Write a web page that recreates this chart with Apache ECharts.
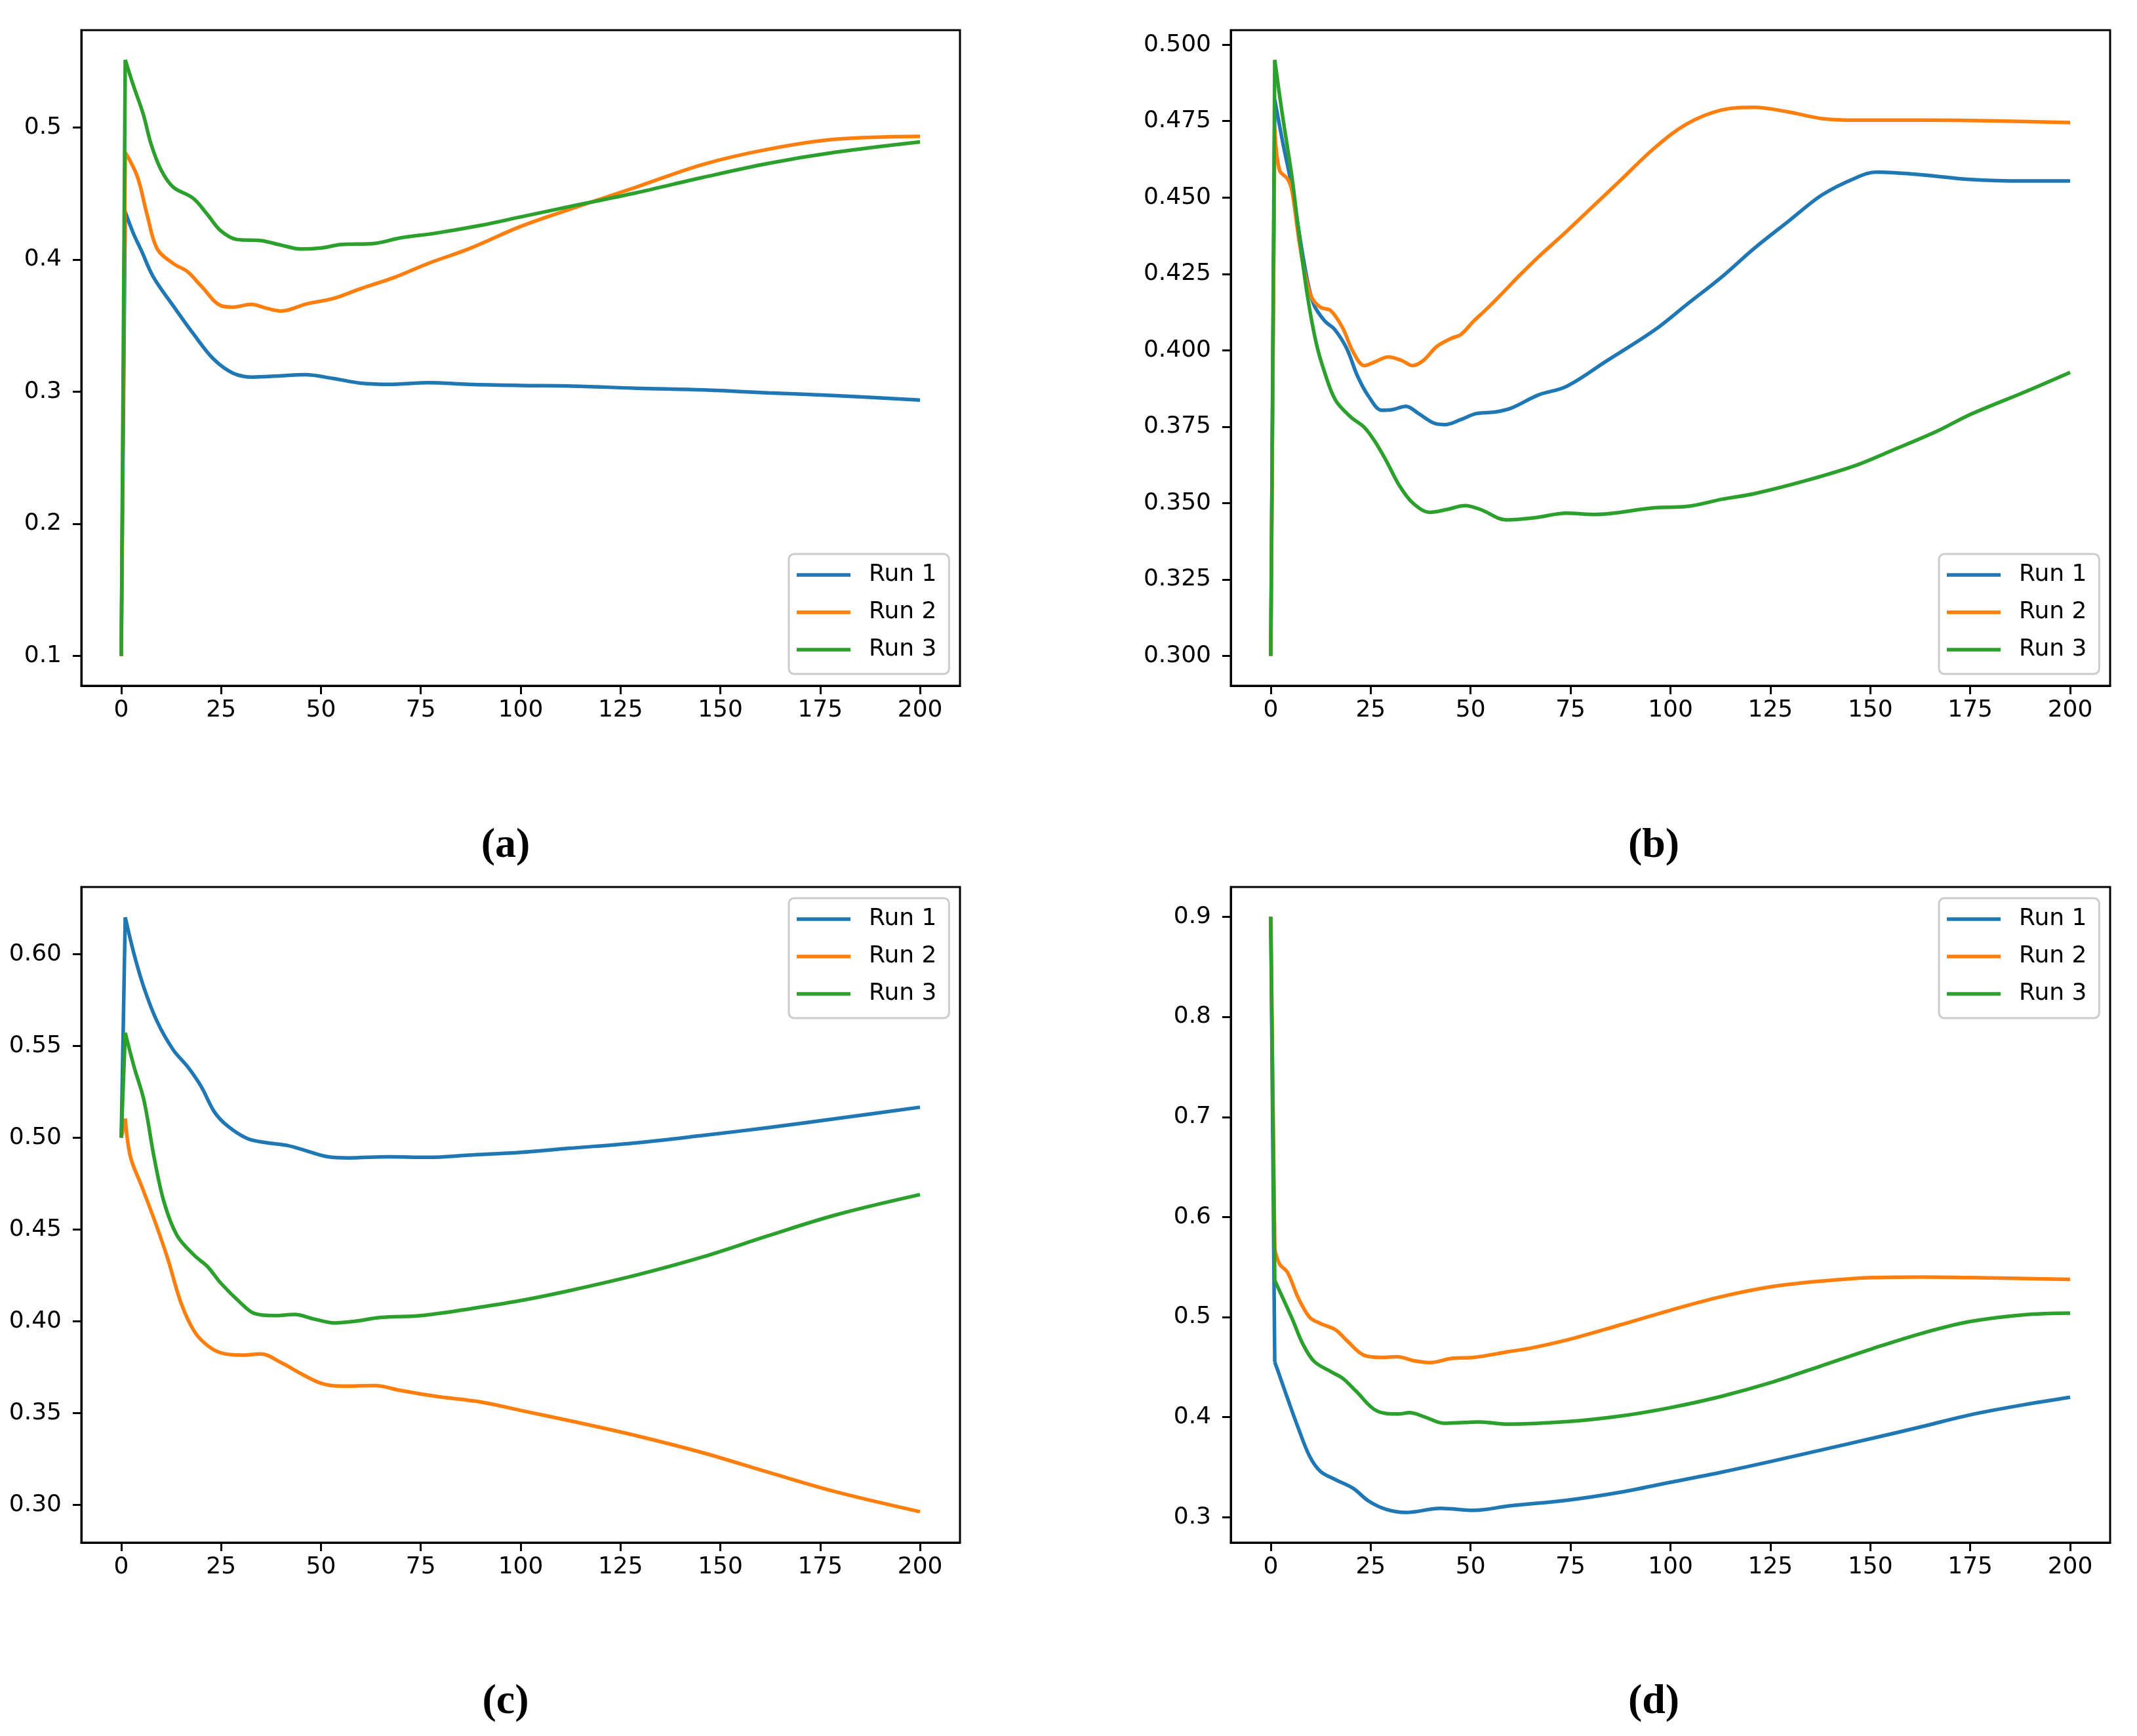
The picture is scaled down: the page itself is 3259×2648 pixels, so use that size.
<!DOCTYPE html>
<html>
<head>
<meta charset="utf-8">
<script src="https://cdn.jsdelivr.net/npm/echarts@6/dist/echarts.min.js"></script>
<style>
html,body{margin:0;padding:0;background:#fff;}
#chart{width:3259px;height:2648px;}
</style>
</head>
<body>
<div id="chart"></div>
<script>
// ---------- data ----------
const seriesNames = ['Run 1', 'Run 2', 'Run 3'];
const xTicks = [0, 25, 50, 75, 100, 125, 150, 175, 200];
const yTicksA = [0.1, 0.2, 0.3, 0.4, 0.5];
const yTicksB = [0.300, 0.325, 0.350, 0.375, 0.400, 0.425, 0.450, 0.475, 0.500];
const yTicksC = [0.30, 0.35, 0.40, 0.45, 0.50, 0.55, 0.60];
const yTicksD = [0.3, 0.4, 0.5, 0.6, 0.7, 0.8, 0.9];
const panelLabels = ['(a)', '(b)', '(c)', '(d)'];

// panel (a)
const aRun1 = [[0,0.1],[1,0.436],[3,0.420],[5,0.407],[8,0.387],[13,0.365],[18,0.344],[23,0.325],[28,0.314],[33,0.311],[40,0.312],[46,0.3128],[53,0.310],[60,0.3064],[67,0.3055],[77,0.3068],[87,0.3055],[100,0.3047],[112,0.3043],[129,0.3026],[146,0.3013],[162,0.2991],[179,0.297],[200,0.2936]];
const aRun2 = [[0,0.1],[1,0.481],[4,0.463],[6.5,0.4335],[9,0.408],[13,0.397],[16.5,0.391],[20,0.380],[25,0.365],[28,0.364],[32.5,0.366],[36.5,0.363],[40,0.361],[46.5,0.3665],[53,0.3704],[60,0.378],[68.5,0.3866],[77,0.3972],[87,0.408],[100,0.425],[112,0.4377],[129,0.4548],[145.5,0.4718],[162,0.4834],[179,0.491],[200,0.4932]];
const aRun3 = [[0,0.1],[1,0.551],[3,0.532],[5.5,0.510],[7.5,0.487],[10,0.4676],[13,0.4548],[18,0.4463],[21.5,0.4343],[25,0.4215],[29,0.4151],[35,0.4143],[40,0.4109],[45,0.4079],[50,0.4087],[55,0.4113],[63.5,0.4122],[70,0.4164],[78.5,0.4198],[90,0.4258],[100,0.4322],[112,0.4399],[129,0.4505],[145.5,0.462],[162,0.4727],[179,0.4812],[200,0.4889]];

// panel (b)
const bRun1 = [[0,0.3],[1,0.482],[3,0.468],[5.3,0.4533],[8.5,0.4275],[10.7,0.4152],[13.5,0.4096],[16,0.4068],[19,0.4006],[21.7,0.3916],[24.5,0.3849],[27.8,0.3804],[30.5,0.3806],[33.8,0.3817],[37,0.3793],[41,0.3761],[43.7,0.3757],[47.5,0.3773],[51.4,0.3793],[56,0.3798],[60,0.381],[67,0.3854],[74,0.3882],[84,0.3965],[96,0.4066],[104,0.4149],[113,0.4242],[121,0.4334],[129.5,0.4422],[138,0.4509],[146.5,0.4565],[151.5,0.4583],[163,0.4574],[175,0.4559],[188.5,0.4554],[200,0.4554]];
const bRun2 = [[0,0.3],[1,0.4724],[2.2,0.4589],[4.2,0.4561],[5.3,0.4522],[7,0.4365],[8.5,0.4253],[10.2,0.4174],[12.4,0.4141],[15,0.413],[18,0.4073],[20.6,0.3995],[23.4,0.395],[26,0.3962],[29.4,0.3978],[32.7,0.3967],[35.5,0.395],[38.2,0.3967],[41.5,0.4012],[45.3,0.404],[47.5,0.4051],[50.8,0.4096],[54,0.4135],[59.5,0.4208],[62,0.4242],[67,0.4306],[74,0.4389],[80.7,0.4472],[87.4,0.4555],[96,0.4662],[104,0.474],[112.7,0.4786],[121,0.4795],[129.5,0.478],[138,0.4758],[146.5,0.4753],[163,0.4753],[180,0.4751],[200,0.4745]];
const bRun3 = [[0,0.3],[1,0.495],[2.8,0.478],[5.3,0.4567],[7,0.4387],[9.1,0.4185],[11.3,0.4028],[13.5,0.3927],[16.2,0.3837],[20,0.3782],[23.4,0.3748],[26,0.3703],[29,0.3636],[32.2,0.3557],[35.5,0.3501],[39.8,0.347],[44,0.3479],[48.6,0.3492],[52.5,0.3479],[59,0.3445],[66,0.3452],[74,0.3467],[81,0.3463],[96,0.3485],[104,0.3489],[113,0.3513],[121,0.3531],[134,0.3574],[146.5,0.3624],[155,0.367],[166.5,0.3734],[175,0.379],[188.5,0.3863],[200,0.3928]];

// panel (c)
const cRun1 = [[0,0.5],[1,0.62],[3.2,0.6],[5.7,0.5816],[9,0.5632],[13,0.5479],[16.6,0.5387],[20,0.5279],[23.3,0.5141],[26.6,0.5064],[31.7,0.4994],[36.7,0.4972],[41.7,0.4957],[46.7,0.4926],[51.8,0.4896],[56.8,0.489],[66.8,0.4896],[77,0.4893],[87,0.4905],[100,0.492],[112,0.4942],[129,0.4972],[145.5,0.5012],[162,0.5055],[179,0.5104],[200,0.5166]];
const cRun2 = [[0,0.5],[1,0.5104],[2.3,0.4896],[5,0.4742],[8.2,0.4558],[11.6,0.4344],[15,0.4098],[18.3,0.3945],[21.6,0.3868],[25,0.3828],[30,0.3816],[35,0.3822],[40,0.3776],[45,0.3715],[50,0.3663],[55,0.3647],[63.5,0.365],[70,0.3623],[78.6,0.3592],[90,0.3561],[100,0.3515],[112,0.346],[129,0.3377],[145.5,0.3285],[162,0.3178],[179,0.3071],[200,0.2963]];
const cRun3 = [[0,0.5],[1,0.5571],[3.2,0.5387],[5.7,0.5202],[8.2,0.4896],[10.7,0.465],[14,0.4466],[18.3,0.4359],[21.6,0.4298],[25,0.4206],[30,0.4098],[33.3,0.4043],[38.4,0.4031],[43.4,0.4037],[48.4,0.4012],[53.4,0.3991],[58.4,0.4],[65,0.4021],[75,0.4031],[87,0.4067],[100,0.4113],[112,0.4166],[129,0.4252],[145.5,0.435],[162,0.4466],[179,0.458],[200,0.469]];

// panel (d)
const dRun1 = [[0,0.9],[1,0.455],[2,0.444],[4.2,0.4188],[6.9,0.389],[9.7,0.3612],[12.4,0.346],[16.2,0.3376],[20.6,0.329],[24.4,0.3165],[28.8,0.308],[33.8,0.3048],[42.5,0.309],[50.8,0.307],[60,0.3116],[74,0.317],[87.4,0.325],[100,0.335],[112.7,0.345],[125.4,0.356],[138,0.3675],[150.6,0.379],[163.3,0.391],[175,0.4024],[188.5,0.4125],[200,0.42]];
const dRun2 = [[0,0.9],[1,0.568],[2.2,0.5531],[4.2,0.5446],[6.9,0.519],[9.7,0.5],[12.4,0.4937],[16.2,0.4874],[19,0.4767],[23.4,0.4618],[27.8,0.4597],[31.6,0.4605],[36,0.4563],[39.8,0.4546],[45.3,0.4588],[50.8,0.4597],[59.5,0.4655],[65,0.469],[75.6,0.4787],[87.4,0.4922],[100,0.5069],[112.7,0.5204],[125.4,0.5305],[138,0.5361],[150.6,0.5395],[163.3,0.540],[175,0.5395],[200,0.5378]];
const dRun3 = [[0,0.9],[1,0.5366],[3.2,0.5175],[5.4,0.498],[8.1,0.4726],[10.9,0.4556],[15.3,0.445],[18.1,0.4386],[21.4,0.4258],[26.4,0.4066],[31.9,0.4032],[34.7,0.4045],[38.5,0.4003],[43.4,0.3939],[48.4,0.3947],[52.2,0.3952],[59.5,0.3931],[74,0.3955],[87.4,0.4011],[100,0.4096],[112.7,0.4208],[125.4,0.4349],[138,0.4517],[150.6,0.4686],[163.3,0.4843],[175,0.4956],[188.5,0.5024],[200,0.504]];

// ---------- layout / style ----------
const colors = ['#1f77b4', '#ff7f0e', '#2ca02c'];
const FONT = 'DejaVu Sans';
const panels = [
  { data: [aRun1, aRun2, aRun3], ticks: yTicksA, min: 0.0775, max: 0.5735, dec: 1,
    grid: { left: 124, top: 46, width: 1340, height: 1000 }, legend: { left: 1203, top: 845 },
    label: [771, 1290] },
  { data: [bRun1, bRun2, bRun3], ticks: yTicksB, min: 0.29025, max: 0.50475, dec: 3,
    grid: { left: 1877, top: 46, width: 1341, height: 1000 }, legend: { left: 2957, top: 845 },
    label: [2522, 1290] },
  { data: [cRun1, cRun2, cRun3], ticks: yTicksC, min: 0.2795, max: 0.6365, dec: 2,
    grid: { left: 124, top: 1353, width: 1340, height: 1000 }, legend: { left: 1203, top: 1370 },
    label: [771, 2596] },
  { data: [dRun1, dRun2, dRun3], ticks: yTicksD, min: 0.2747, max: 0.9298, dec: 1,
    grid: { left: 1877, top: 1353, width: 1341, height: 1000 }, legend: { left: 2957, top: 1370 },
    label: [2522, 2596] }
];

const axisLineStyle = { show: true, onZero: false, lineStyle: { color: '#000', width: 3 } };
const tickStyle = { show: true, inside: false, length: 13, lineStyle: { color: '#000', width: 3 } };

const option = {
  backgroundColor: '#fff',
  animation: false,
  grid: [], xAxis: [], yAxis: [], series: [], legend: [], graphic: []
};

panels.forEach((p, i) => {
  option.grid.push(Object.assign({ show: true, borderColor: '#000', borderWidth: 3, backgroundColor: '#fff', containLabel: false }, p.grid));
  option.xAxis.push({
    type: 'value', gridIndex: i, min: -10, max: 210,
    axisLine: axisLineStyle, splitLine: { show: false },
    axisTick: Object.assign({}, tickStyle, { customValues: xTicks }),
    axisLabel: { customValues: xTicks, margin: 20, fontFamily: FONT, fontSize: 36, color: '#000',
      formatter: v => String(v) }
  });
  option.yAxis.push({
    type: 'value', gridIndex: i, min: p.min, max: p.max,
    axisLine: axisLineStyle, splitLine: { show: false },
    axisTick: Object.assign({}, tickStyle, { customValues: p.ticks }),
    axisLabel: { customValues: p.ticks, margin: 30, fontFamily: FONT, fontSize: 36, color: '#000',
      formatter: v => Number(v).toFixed(p.dec) }
  });
  p.data.forEach((d, k) => {
    // initial jump (straight segment)
    option.series.push({
      type: 'line', name: seriesNames[k], xAxisIndex: i, yAxisIndex: i,
      data: d.slice(0, 2), symbol: 'none', showSymbol: false, smooth: false,
      lineStyle: { color: colors[k], width: 5.5 }, itemStyle: { color: colors[k] }, z: 3
    });
    // the rest of the run, smoothed
    option.series.push({
      type: 'line', name: seriesNames[k], xAxisIndex: i, yAxisIndex: i,
      data: d.slice(1), symbol: 'none', showSymbol: false, smooth: 0.35,
      lineStyle: { color: colors[k], width: 5.5 }, itemStyle: { color: colors[k] }, z: 3
    });
  });
  option.legend.push({
    orient: 'vertical', left: p.legend.left, top: p.legend.top,
    data: seriesNames, icon: 'rect', itemWidth: 82, itemHeight: 5.5, itemGap: 21,
    padding: [14, 19, 19, 12],
    backgroundColor: 'rgba(255,255,255,0.8)', borderColor: '#cccccc', borderWidth: 3, borderRadius: 8,
    textStyle: { fontFamily: FONT, fontSize: 36, color: '#000', lineHeight: 36, padding: [0, 0, 0, 23] },
    selectedMode: false
  });
  option.graphic.push({
    type: 'text', x: p.label[0], y: p.label[1], z: 10,
    style: { text: panelLabels[i], fill: '#000', font: 'bold 64px "Liberation Serif", "DejaVu Serif", serif',
      align: 'center', verticalAlign: 'middle', textAlign: 'center', textVerticalAlign: 'middle' }
  });
});

const chart = echarts.init(document.getElementById('chart'), null, { renderer: 'canvas' });
chart.setOption(option);
</script>
</body>
</html>
